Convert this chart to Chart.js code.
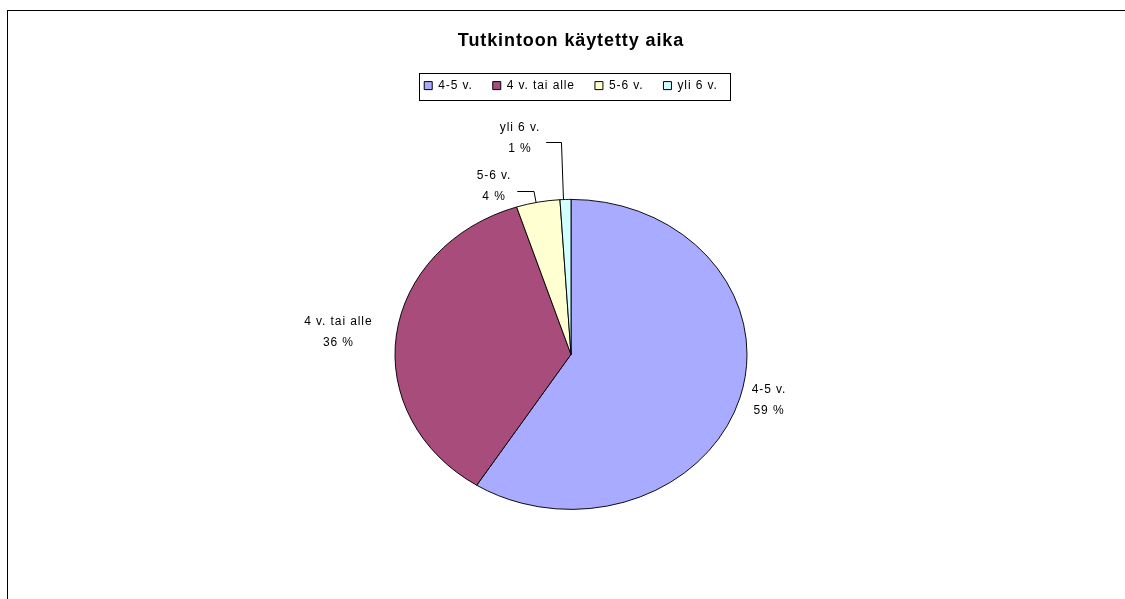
<!DOCTYPE html>
<html>
<head>
<meta charset="utf-8">
<script src="https://cdn.jsdelivr.net/npm/chart.js@4"></script>
<style>
    html, body { margin: 0; padding: 0; background: #fff; }
    canvas { display: block; }
</style>
</head>
<body>
<canvas id="chart" width="1125" height="599"></canvas>
<script>
const chartTitle = 'Tutkintoon käytetty aika';
const categories = ['4-5 v.', '4 v. tai alle', '5-6 v.', 'yli 6 v.'];
const shares = [59, 36, 4, 1];

const sliceColors = ['#A8ABFF', '#A84C7B', '#FFFFD2', '#D2FFFF'];
// label centre relative to the slice's outer edge point
const labelOffsets = [[29, 3], [-58, -3], [-44, -15.5], [-45.5, -61.5]];
const leaderLines = [false, false, true, true];
const FONT = 'Arial, "Liberation Sans", sans-serif';
const SPACING = '0.9px';
const PIE_RX = 176;
const PIE_RY = 155;

Chart.defaults.color = '#000';
Chart.defaults.font.family = FONT;

/**
 * Excel-tyylinen litistetty piirakka + kehys.
 */
const ellipsePlugin = {
    id: 'ellipse',
    beforeUpdate(chart) {
        chart.ctx.letterSpacing = SPACING;
    },
    beforeDraw(chart) {
        const ctx = chart.ctx;
        ctx.letterSpacing = SPACING;
        ctx.save();
        ctx.fillStyle = '#fff';
        ctx.fillRect(0, 0, chart.width, chart.height);
        ctx.strokeStyle = '#000';
        ctx.lineWidth = 1;
        ctx.strokeRect(7.5, 10.5, chart.width, chart.height);
        ctx.restore();
    },
    beforeDatasetsDraw(chart) {
        const arc = chart.getDatasetMeta(0).data[0];
        const ctx = chart.ctx;
        ctx.save();
        ctx.translate(arc.x, arc.y);
        ctx.scale(1, PIE_RY / PIE_RX);
        ctx.translate(-arc.x, -arc.y);
    },
    afterDatasetsDraw(chart) {
        chart.ctx.restore();
    },
};

/**
 * Arvotarrat, johtoviivat ja selitteen kehys.
 */
const labelPlugin = {
    id: 'sliceLabels',
    afterDraw(chart) {
        const ctx = chart.ctx;
        const meta = chart.getDatasetMeta(0);
        const k = PIE_RY / PIE_RX;
        ctx.save();
        ctx.font = `12px ${FONT}`;
        ctx.fillStyle = '#000';
        ctx.strokeStyle = '#000';
        ctx.lineWidth = 1;
        ctx.textAlign = 'center';
        ctx.textBaseline = 'middle';
        meta.data.forEach((arc, i) => {
            const mid = (arc.startAngle + arc.endAngle) / 2;
            const ex = arc.x + arc.outerRadius * Math.cos(mid);
            const ey = arc.y + arc.outerRadius * k * Math.sin(mid);
            const cx = ex + labelOffsets[i][0];
            const cy = ey + labelOffsets[i][1];
            const lines = [categories[i], `${shares[i]} %`];
            ctx.fillText(lines[0], cx, cy - 10.5);
            ctx.fillText(lines[1], cx, cy + 10.5);
            if (leaderLines[i]) {
                const w = Math.max(...lines.map((t) => ctx.measureText(t).width));
                const sx = cx + w / 2 + 6;
                const sy = Math.round(cy + 4) + 0.5;
                ctx.beginPath();
                ctx.moveTo(sx, sy);
                ctx.lineTo(ex - 4, sy);
                ctx.lineTo(ex - 2, ey);
                ctx.stroke();
            }
        });

        const boxes = chart.legend.legendHitBoxes;
        if (boxes && boxes.length) {
            const first = boxes[0];
            const last = boxes[boxes.length - 1];
            const left = Math.round(first.left - 5) + 0.5;
            const right = Math.round(last.left + last.width + 12) + 0.5;
            const mid = first.top + first.height / 2;
            const top = Math.round(mid - 13) + 0.5;
            ctx.strokeRect(left, top, right - left, 27);
        }
        ctx.restore();
    },
};

new Chart(document.getElementById('chart').getContext('2d'), {
    type: 'pie',
    data: {
        labels: categories,
        datasets: [
            {
                data: shares,
                backgroundColor: sliceColors,
                borderColor: '#000',
                borderWidth: 1,
                radius: PIE_RX,
                clip: false,
            },
        ],
    },
    options: {
        responsive: false,
        animation: false,
        layout: { padding: { left: 18, right: 1, top: 0, bottom: 0 } },
        plugins: {
            title: {
                display: true,
                text: chartTitle,
                color: '#000',
                font: { size: 18, weight: 'bold', family: FONT },
                padding: { top: 30, bottom: 8 },
            },
            // tyhjä väli selitteen alle, jotta piirakka asettuu oikealle korkeudelle
            subtitle: {
                display: true,
                text: ' ',
                weight: 500,
                font: { size: 1 },
                padding: { top: 0, bottom: 7 },
            },
            legend: {
                position: 'top',
                labels: {
                    boxWidth: 8,
                    boxHeight: 8,
                    padding: 20,
                    color: '#000',
                    font: { size: 12, family: FONT },
                },
            },
            tooltip: { enabled: false },
        },
    },
    plugins: [ellipsePlugin, labelPlugin],
});
</script>
</body>
</html>
